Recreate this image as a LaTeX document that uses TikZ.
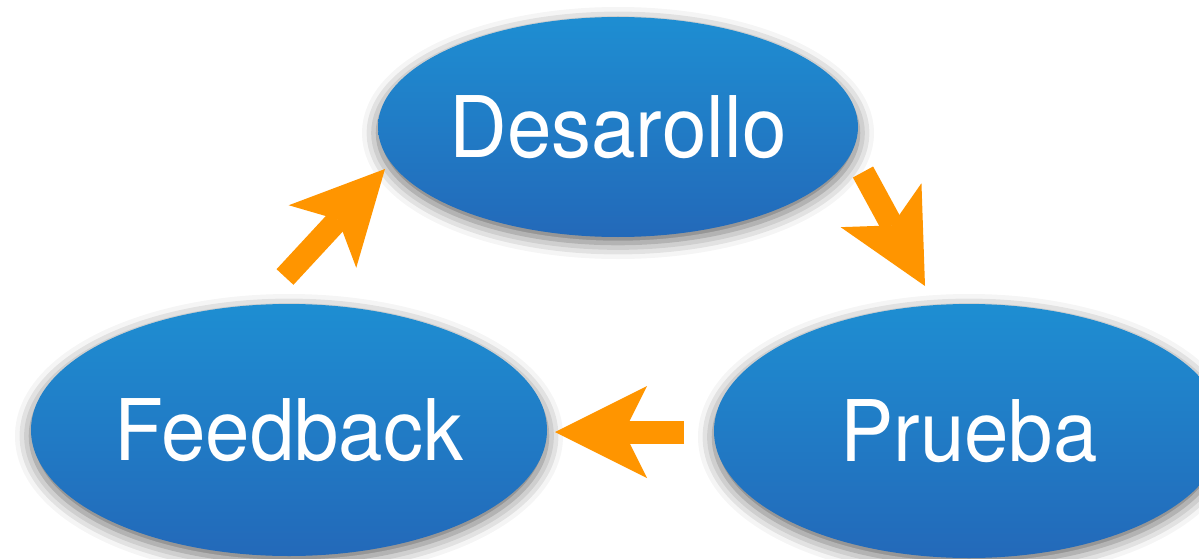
\documentclass[tikz,border=0pt]{standalone}
\usepackage{fontspec}
\setmainfont{TeX Gyre Heros}[FakeStretch=0.94]
\usetikzlibrary{shapes.geometric, arrows.meta, shadows.blur}
\definecolor{phasetop}{HTML}{1E8ED2}
\definecolor{phasemid}{HTML}{1779BF}
\definecolor{phasebot}{HTML}{2369B9}
\definecolor{arroworange}{HTML}{FF9500}
\tikzstyle{phase} = [ellipse, inner sep=0pt, top color=phasetop, middle color=phasemid, bottom color=phasebot, text=white, font=\fontsize{85}{85}\selectfont, blur shadow={shadow xshift=0pt, shadow yshift=-6pt, shadow blur radius=16pt, shadow opacity=60}]
\tikzstyle{arrow} = [line width=23pt, draw=arroworange, -{Stealth[length=92pt, width=92pt, inset=23pt, line width=0pt]}]

\begin{document}
\begin{tikzpicture}[x=1pt, y=-1pt]
    \useasboundingbox (0,0) rectangle (1199,559);
    \node [phase, minimum width=480pt, minimum height=220pt] at (618,127) (des) {Desarollo};
    \node [phase, minimum width=516pt, minimum height=252pt] at (289,430) (fb) {Feedback};
    \node [phase, minimum width=510pt, minimum height=254pt] at (969,431) (pru) {Prueba};
    \coordinate (fbout) at (285,277);
    \coordinate (desin) at (385,169);
    \coordinate (desout) at (863,172);
    \coordinate (pruin) at (925,286);
    \coordinate (pruout) at (684,432);
    \coordinate (fbin) at (555,432);
    \draw [arrow] (fbout) -- (desin);
    \draw [arrow] (desout) -- (pruin);
    \draw [arrow] (pruout) -- (fbin);
\end{tikzpicture}
\end{document}
